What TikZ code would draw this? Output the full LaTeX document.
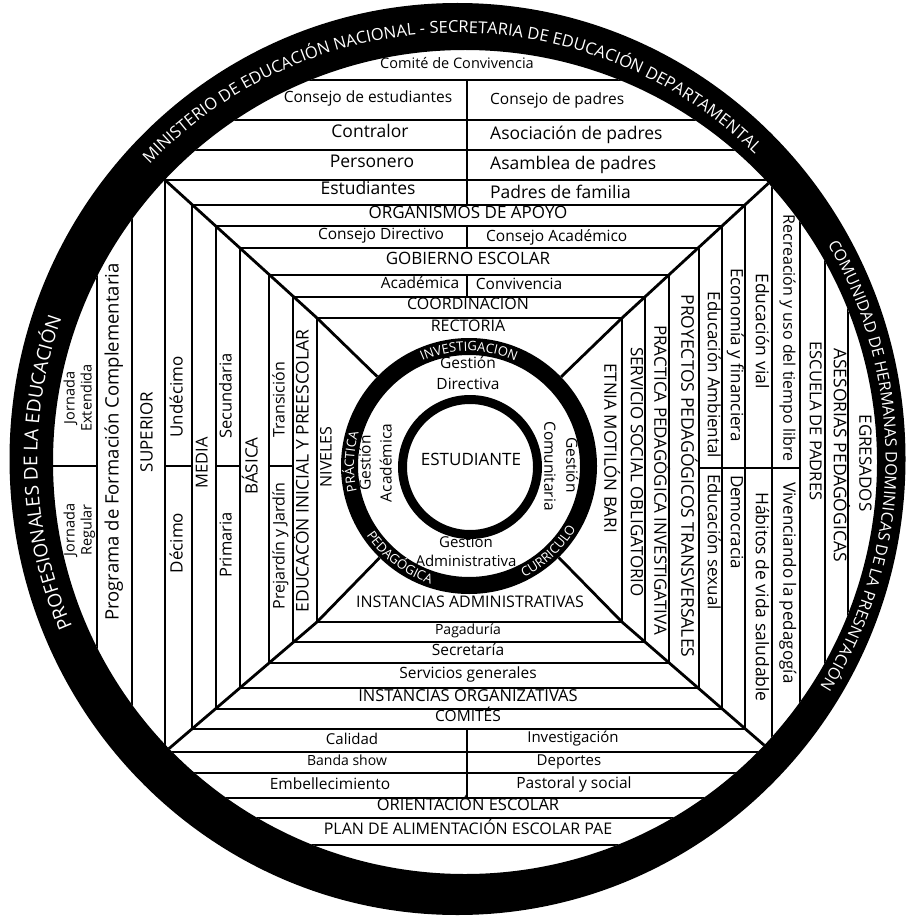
\documentclass[tikz,border=0pt]{standalone}
\usepackage{fontspec}
\setmainfont{Open Sans}
\usetikzlibrary{decorations.text}
\tikzset{
  lbl/.style={inner sep=0pt,anchor=mid,font=\fontsize{#1}{#1}\selectfont},
  lbl/.default=15,
  lup/.style={lbl=#1,rotate=90},
  lup/.default=15,
  ldown/.style={lbl=#1,rotate=-90},
  ldown/.default=15,
  bandline/.style={line width=2.8pt},
}
\begin{document}
\begin{tikzpicture}[x=1pt,y=1pt]
\useasboundingbox (0,0) rectangle (914,-917);
\fill[white] (0,0) rectangle (914,-917);
% ---------- band structure, clipped to the inner edge of the outer ring
\begin{scope}
\clip (465,-462) circle (412);
% nested frames
\draw[bandline] (165,-180) rectangle (772,-752);
\draw[bandline] (192,-205) rectangle (745,-729);
\draw[bandline] (216,-226) rectangle (722,-709);
\draw[bandline] (240,-248) rectangle (699,-688);
\draw[bandline] (269,-275) rectangle (669,-663);
\draw[bandline] (293,-297) rectangle (645,-642);
\draw[bandline] (317,-318) rectangle (622,-622);
% diagonals
\draw[bandline] (165,-180) -- (317,-318) -- (469,-466);
\draw[bandline] (772,-180) -- (622,-318) -- (469,-466);
\draw[bandline] (165,-752) -- (317,-622) -- (469,-466);
\draw[bandline] (772,-752) -- (622,-622) -- (469,-466);
% outer bands
\foreach \y in {80,120,150,773,798,818,845} \draw[bandline] (0,-\y) -- (914,-\y);
\foreach \x in {97,132,800,825,848} \draw[bandline] (\x,0) -- (\x,-917);
% dividers
\draw[bandline] (467,-80) -- (467,-205);
\draw[bandline] (467,-226) -- (467,-248);
\draw[bandline] (467,-275) -- (467,-297);
\draw[bandline] (0,-466) -- (97,-466);
\draw[bandline] (165,-466) -- (192,-466);
\draw[bandline] (216,-466) -- (240,-466);
\draw[bandline] (269,-466) -- (293,-466);
\draw[bandline] (699,-468) -- (800,-468);
\draw[bandline] (467,-729) -- (467,-798);
\end{scope}
% ---------- outer ring
\fill[even odd rule] (457.5,-459) ellipse [x radius=448,y radius=456] (465,-462) circle (412);
% ---------- inner rings
\fill[white] (469,-466) circle (128);
\fill[even odd rule] (469,-466) circle (128) (469,-466) circle (111);
\fill[even odd rule] (470,-467) circle (72) (470,-467) circle (63);
% ---------- texts on the outer ring
\path[decorate,decoration={text along path,text align=center,text color=white,
  text={|\fontsize{16.5}{16.5}\selectfont|MINISTERIO DE EDUCACIÓN NACIONAL - SECRETARIA DE EDUCACIÓN DEPARTAMENTAL}}]
  (457.5,-459) ++(156:426) arc[start angle=156,end angle=26,radius=426];
\path[decorate,decoration={text along path,text align=center,text color=white,
  text={|\fontsize{19}{19}\selectfont|PROFESIONALES DE LA EDUCACIÓN}}]
  (457.5,-459) ++(240:420) arc[start angle=240,end angle=124,radius=420];
\path[decorate,decoration={text along path,text align=center,text color=white,
  text={|\fontsize{16}{16}\selectfont|COMUNIDAD DE HERMANAS DOMINICAS DE LA PRESNTACIÓN}}]
  (457.5,-459) ++(50:428) arc[start angle=50,end angle=-52,radius=428];
% ---------- texts on the middle ring
\path[decorate,decoration={text along path,text align=center,text color=white,
  text={|\fontsize{13}{13}\selectfont|INVESTIGACION}}]
  (469,-466) ++(150:115) arc[start angle=150,end angle=30,radius=115];
\path[decorate,decoration={text along path,text align=center,text color=white,
  text={|\fontsize{13}{13}\selectfont|PRÁCTICA}}]
  (469,-466) ++(238:115) arc[start angle=238,end angle=118,radius=115];
\path[decorate,decoration={text along path,text align=center,text color=white,
  text={|\fontsize{13}{13}\selectfont|PEDAGÓGICA}}]
  (469,-466) ++(173:124) arc[start angle=173,end angle=293,radius=124];
\path[decorate,decoration={text along path,text align=center,text color=white,
  text={|\fontsize{13}{13}\selectfont|CURRICULO}}]
  (469,-466) ++(253:124) arc[start angle=253,end angle=373,radius=124];
% ---------- centre
\node[lbl=17] (est) at (471,-463) {ESTUDIANTE};
\node[lbl=15.5] (gd1) at (468,-366) {Gestión};
\node[lbl=15.5] (gd2) at (468,-387) {Directiva};
\node[lup=15.5] (ga1) at (368,-463) {Gestión};
\node[lup=15.5] (ga2) at (389,-463) {Académica};
\node[ldown=15.5] (gc1) at (569,-465) {Gestión};
\node[ldown=15.5] (gc2) at (547,-466) {Comunitaria};
\node[lbl=15] (gad1) at (466,-545) {Gestión};
\node[lbl=15] (gad2) at (466,-564) {Administrativa};
% ---------- inner square
\node[lbl=16] (rect) at (468,-329) {RECTORIA};
\node[lup=16] (niv) at (329,-457) {NIVELES};
\node[ldown=17] (etn) at (607,-448) {ETNIA MOTILÓN BARI};
\node[lbl=16] (iad) at (470,-605) {INSTANCIAS ADMINISTRATIVAS};
% ---------- top
\node[lbl=14.5] (cc) at (457,-66) {Comité de Convivencia};
\node[lbl=15.5] (ces) at (368,-100) {Consejo de estudiantes};
\node[lbl=15.5,anchor=west] (cpa) at (490,-100) {Consejo de padres};
\node[lbl=17.5] (con) at (370,-135) {Contralor};
\node[lbl=17.5,anchor=west] (aso) at (490,-135) {Asociación de padres};
\node[lbl=17.5] (per) at (372,-165) {Personero};
\node[lbl=17.5,anchor=west] (asa) at (490,-165) {Asamblea de padres};
\node[lbl=17.5] (estd) at (368,-192) {Estudiantes};
\node[lbl=17.5,anchor=west] (pdf) at (490,-192) {Padres de familia};
\node[lbl=17] (org) at (468,-216) {ORGANISMOS DE APOYO};
\node[lbl=15.5] (cdi) at (381,-237) {Consejo Directivo};
\node[lbl=15.5,anchor=west] (cac) at (486,-237) {Consejo Académico};
\node[lbl=17] (gob) at (468,-262) {GOBIERNO ESCOLAR};
\node[lbl=15.5] (aca) at (420,-286) {Académica};
\node[lbl=15.5] (cnv) at (519,-287) {Convivencia};
\node[lbl=16] (coo) at (468,-307) {COORDINACION};
% ---------- left
\node[lup=14.5] (je1) at (72,-398) {Jornada};
\node[lup=14.5] (je2) at (89,-398) {Extendida};
\node[lup=14.5] (jr1) at (72,-530) {Jornada};
\node[lup=14.5] (jr2) at (89,-530) {Regular};
\node[lup=18.5] (pfc) at (116,-442) {Programa de Formación Complementaria};
\node[lup=17] (sup) at (150,-432) {SUPERIOR};
\node[lup=17] (und) at (180,-397) {Undécimo};
\node[lup=17] (dec) at (180,-543) {Décimo};
\node[lup=16.5] (med) at (205,-463) {MEDIA};
\node[lup=16.5] (sec) at (229,-396) {Secundaria};
\node[lup=16.5] (pri) at (229,-545) {Primaria};
\node[lup=17] (bas) at (255,-466) {BÁSICA};
\node[lup=16] (tra) at (282,-400) {Transición};
\node[lup=16] (prj) at (282,-546) {Prejardín y Jardín};
\node[lup=17.5] (edi) at (306,-471) {EDUCACÓN INICIAL Y PREESCOLAR};
% ---------- right
\node[ldown=17] (sso) at (633.5,-472) {SERVICIO SOCIAL OBLIGATORIO};
\node[ldown=17] (ppi) at (657,-480) {PRACTICA PEDAGÓGICA INVESTIGATIVA};
\node[ldown=17.5] (ppt) at (684,-476) {PROYECTOS PEDAGÓGICOS TRANSVERSALES};
\node[ldown=17] (eam) at (710.5,-375) {Educación Ambiental};
\node[ldown=17] (esx) at (710.5,-542) {Educación sexual};
\node[ldown=17] (eco) at (733.5,-355) {Economía y financiera};
\node[ldown=17] (dem) at (733.5,-522) {Democracia};
\node[ldown=17.5] (evi) at (758.5,-331) {Educación vial};
\node[ldown=17.5] (hab) at (758.5,-597) {Hábitos de vida saludable};
\node[ldown=16] (rec) at (786,-338) {Recreación y uso del tiempo libre};
\node[ldown=17] (viv) at (786,-583) {Vivenciando la pedagogía};
\node[ldown=16.5] (esc) at (812.5,-421) {ESCUELA DE PADRES};
\node[ldown=17.5] (ase) at (836.5,-455) {ASESORIAS PEDAGÓGICAS};
\node[ldown=17] (egr) at (862,-463) {EGRESADOS};
% ---------- bottom
\node[lbl=14] (pag) at (468,-632) {Pagaduría};
\node[lbl=15.5] (secr) at (468,-653) {Secretaría};
\node[lbl=15.5] (ser) at (468,-676) {Servicios generales};
\node[lbl=16.5] (ior) at (468,-699) {INSTANCIAS ORGANIZATIVAS};
\node[lbl=15.5] (com) at (468,-719) {COMITÉS};
\node[lbl=15] (cal) at (352,-742) {Calidad};
\node[lbl=15] (inv) at (573,-740) {Investigación};
\node[lbl=14] (ban) at (347,-763) {Banda show};
\node[lbl=15] (dep) at (569,-763) {Deportes};
\node[lbl=15.5] (emb) at (330,-787) {Embellecimiento};
\node[lbl=15.5] (pas) at (574,-786) {Pastoral y social};
\node[lbl=16.5] (ori) at (468,-808) {ORIENTACIÓN ESCOLAR};
\node[lbl=16] (pae) at (468,-832) {PLAN DE ALIMENTACIÓN ESCOLAR PAE};
\end{tikzpicture}
\end{document}
